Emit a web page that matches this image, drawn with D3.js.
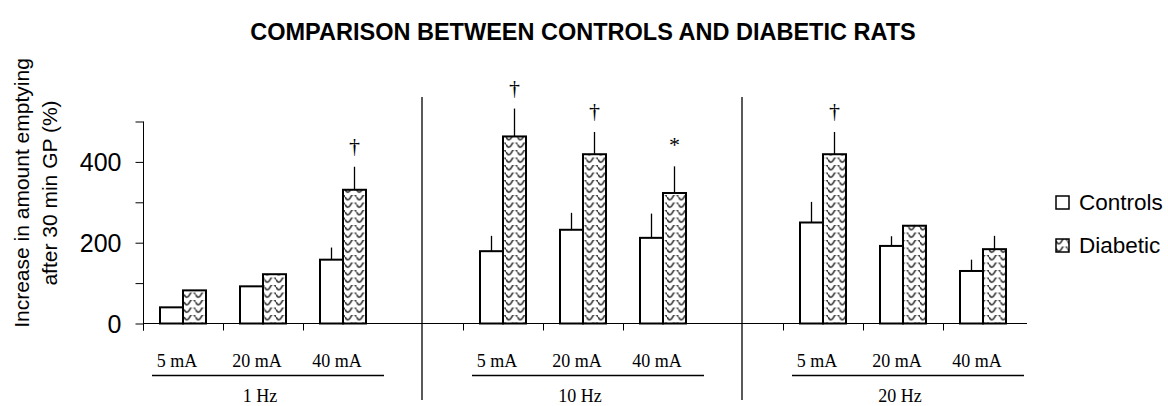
<!DOCTYPE html>
<html>
<head>
<meta charset="utf-8">
<script src="https://cdnjs.cloudflare.com/ajax/libs/d3/7.8.5/d3.min.js"></script>
<style>
  body { margin: 0; background: #fff; }
  svg { display: block; }
</style>
</head>
<body>
<div id="chart"></div>
<script>
// data
var freqs = ["1 Hz", "10 Hz", "20 Hz"];
var currents = ["5 mA", "20 mA", "40 mA"];
var controls = [40, 92, 158, 179, 232, 212, 250, 192, 130];
var controlsErr = [0, 0, 30, 38, 42, 60, 51, 24, 28];
var diabetic = [82, 122, 331, 463, 419, 323, 419, 242, 184];
var diabeticErr = [0, 0, 57, 69, 55, 66, 55, 2, 33];
var marks = ["", "", "†", "†", "†", "*", "†", "", ""];
var yTicks = [0, 100, 200, 300, 400, 500];
var yLabels = [0, 200, 400];

var width = 1168, height = 406;
var sans = "'Liberation Sans', Arial, sans-serif";
var serif = "'Liberation Serif', 'Times New Roman', serif";

var svg = d3.select("#chart")
    .append("svg")
    .attr("width", width)
    .attr("height", height);

// wavy hatch for diabetic bars
var defs = svg.append("defs");
var pat = defs.append("pattern")
    .attr("id", "wave")
    .attr("patternUnits", "userSpaceOnUse")
    .attr("width", 11.5)
    .attr("height", 7.5);
pat.append("rect").attr("width", 11.5).attr("height", 7.5).attr("fill", "#fff");
pat.append("path")
    .attr("d", "M0,2 Q2.875,7.5 5.75,2 T11.5,2")
    .attr("fill", "none")
    .attr("stroke", "#3a3a3a")
    .attr("stroke-width", 1.7);

// one slot per bar group, with an empty slot between frequencies
var slots = [];
var rows = [];
freqs.forEach(function (f, i) {
    if (i > 0) slots.push("gap" + i);
    currents.forEach(function (c, j) {
        var k = i * currents.length + j;
        slots.push(f + "|" + c);
        rows.push({
            key: f + "|" + c, freq: f, current: c,
            ctrl: controls[k], ctrlErr: controlsErr[k],
            diab: diabetic[k], diabErr: diabeticErr[k], mark: marks[k]
        });
    });
});

var x = d3.scaleBand().domain(slots).range([143, 1023]).padding(0);
var y = d3.scaleLinear().domain([0, 500]).range([323.5, 121.5]);
var barW = 23;

svg.append("text")
    .attr("x", 583)
    .attr("y", 40)
    .attr("text-anchor", "middle")
    .style("font-family", sans)
    .style("font-weight", "bold")
    .style("font-size", "23.5px")
    .text("COMPARISON BETWEEN CONTROLS AND DIABETIC RATS");

// y axis
var yAxis = svg.append("g")
    .attr("transform", "translate(143.5,0)")
    .call(d3.axisLeft(y).tickValues(yTicks).tickSize(8).tickPadding(14)
        .tickFormat(function (d) { return yLabels.indexOf(d) >= 0 ? d : ""; }));
yAxis.select(".domain").attr("d", "M0," + y(500) + "V" + (y(0) + 7));
yAxis.selectAll("line").attr("stroke", "#000");
yAxis.selectAll("text")
    .style("font-family", sans)
    .style("font-size", "25px")
    .attr("dy", "0.36em");

var yTitle = svg.append("text")
    .attr("transform", "translate(0,193) rotate(-90)")
    .attr("text-anchor", "middle")
    .style("font-family", sans)
    .style("font-size", "21px");
yTitle.append("tspan").attr("x", 0).attr("y", 29).text("Increase in amount emptying");
yTitle.append("tspan").attr("x", 0).attr("y", 57).text("after 30 min GP (%)");

// x axis line and ticks at the left of each group
svg.append("line")
    .attr("x1", 143).attr("x2", 1027)
    .attr("y1", y(0)).attr("y2", y(0))
    .attr("stroke", "#000");
svg.selectAll(".xtick")
    .data(rows)
    .enter()
    .append("line")
    .attr("x1", function (d) { return Math.round(x(d.key)) + 0.5; })
    .attr("x2", function (d) { return Math.round(x(d.key)) + 0.5; })
    .attr("y1", y(0)).attr("y2", y(0) + 7)
    .attr("stroke", "#000");

// separators in the empty slots
svg.selectAll(".sep")
    .data(slots.filter(function (s) { return s.indexOf("gap") === 0; }))
    .enter()
    .append("line")
    .attr("x1", function (d) { return x(d) + x.bandwidth() / 2 - 1; })
    .attr("x2", function (d) { return x(d) + x.bandwidth() / 2 - 1; })
    .attr("y1", 97).attr("y2", 400)
    .attr("stroke", "#000")
    .attr("stroke-width", 1.3);

var groups = svg.selectAll(".grp")
    .data(rows)
    .enter()
    .append("g")
    .attr("class", "grp");

// controls bars
groups.append("rect")
    .attr("x", function (d) { return x(d.key) + x.bandwidth() / 2 - barW; })
    .attr("y", function (d) { return y(d.ctrl); })
    .attr("width", barW)
    .attr("height", function (d) { return y(0) - y(d.ctrl); })
    .attr("fill", "#fff")
    .attr("stroke", "#000")
    .attr("stroke-width", 2);

// diabetic bars
groups.append("rect")
    .attr("x", function (d) { return x(d.key) + x.bandwidth() / 2; })
    .attr("y", function (d) { return y(d.diab); })
    .attr("width", barW)
    .attr("height", function (d) { return y(0) - y(d.diab); })
    .attr("fill", "url(#wave)")
    .attr("stroke", "#000")
    .attr("stroke-width", 2);

// error bars (upper only)
groups.filter(function (d) { return d.ctrlErr > 0; })
    .append("line")
    .attr("x1", function (d) { return x(d.key) + x.bandwidth() / 2 - barW / 2; })
    .attr("x2", function (d) { return x(d.key) + x.bandwidth() / 2 - barW / 2; })
    .attr("y1", function (d) { return y(d.ctrl); })
    .attr("y2", function (d) { return y(d.ctrl + d.ctrlErr); })
    .attr("stroke", "#000")
    .attr("stroke-width", 1.3);
groups.filter(function (d) { return d.diabErr > 0; })
    .append("line")
    .attr("x1", function (d) { return x(d.key) + x.bandwidth() / 2 + barW / 2; })
    .attr("x2", function (d) { return x(d.key) + x.bandwidth() / 2 + barW / 2; })
    .attr("y1", function (d) { return y(d.diab); })
    .attr("y2", function (d) { return y(d.diab + d.diabErr); })
    .attr("stroke", "#000")
    .attr("stroke-width", 1.3);

// significance marks
groups.append("text")
    .attr("x", function (d) { return x(d.key) + x.bandwidth() / 2 + barW / 2; })
    .attr("y", function (d) { return y(d.diab + d.diabErr) - 14; })
    .attr("text-anchor", "middle")
    .style("font-family", serif)
    .style("font-size", "22px")
    .text(function (d) { return d.mark; });

// current labels
groups.append("text")
    .attr("x", function (d) { return x(d.key) + x.bandwidth() / 2 - 6; })
    .attr("y", 367)
    .attr("text-anchor", "middle")
    .style("font-family", serif)
    .style("font-size", "18px")
    .text(function (d) { return d.current; });

// frequency labels with rule above
freqs.forEach(function (f) {
    var first = x(f + "|" + currents[0]);
    var last = x(f + "|" + currents[currents.length - 1]) + x.bandwidth();
    svg.append("line")
        .attr("x1", first + 9).attr("x2", last + 1)
        .attr("y1", 375.5).attr("y2", 375.5)
        .attr("stroke", "#000")
        .attr("stroke-width", 1.3);
    svg.append("text")
        .attr("x", (first + last) / 2 - 3)
        .attr("y", 402)
        .attr("text-anchor", "middle")
        .style("font-family", serif)
        .style("font-size", "18px")
        .text(f);
});

// legend
var legendItems = [
    { name: "Controls", fill: "#fff", y: 196 },
    { name: "Diabetic", fill: "url(#wave)", y: 239 }
];
var legend = svg.selectAll(".legend")
    .data(legendItems)
    .enter()
    .append("g")
    .attr("class", "legend")
    .attr("transform", function (d) { return "translate(1056," + d.y + ")"; });
legend.append("rect")
    .attr("width", 13)
    .attr("height", 13)
    .attr("fill", function (d) { return d.fill; })
    .attr("stroke", "#000")
    .attr("stroke-width", 1.5);
legend.append("text")
    .attr("x", 23)
    .attr("y", 14)
    .style("font-family", sans)
    .style("font-size", "22.5px")
    .text(function (d) { return d.name; });
</script>
</body>
</html>
